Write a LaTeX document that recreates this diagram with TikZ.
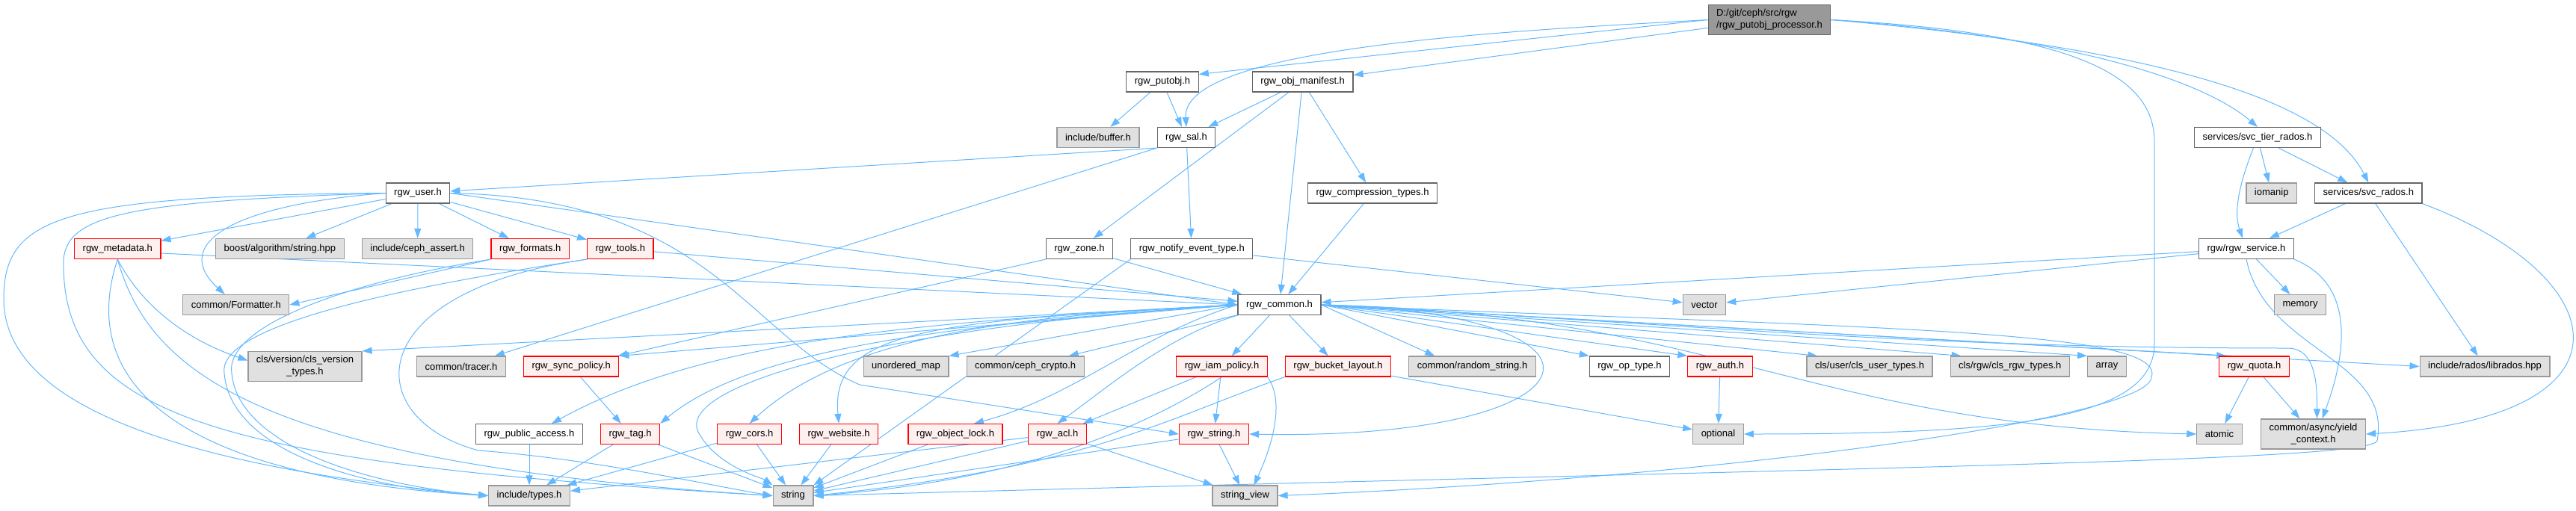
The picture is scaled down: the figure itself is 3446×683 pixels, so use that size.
\documentclass[tikz,border=0pt]{standalone}
\usepackage{fontspec}
\setmainfont{Liberation Sans}
\usepackage{xcolor}
\definecolor{dxedge}{HTML}{63B8FF}
\definecolor{dxframe}{HTML}{666666}
\definecolor{dxleafline}{HTML}{999999}
\definecolor{dxleaf}{HTML}{E0E0E0}
\definecolor{dxred}{HTML}{FF0000}
\definecolor{dxredfill}{HTML}{FFF0F0}
\definecolor{dxmain}{HTML}{999999}
\usetikzlibrary{arrows.meta,positioning,backgrounds}
\tikzset{
  nb/.style={draw, align=center, font=\fontsize{13}{16}\selectfont,
             inner xsep=11pt, inner ysep=6pt, minimum height=27pt, line width=1.2pt},
  nwhite/.style={nb, fill=white, draw=dxframe},
  ngray/.style={nb, fill=dxleaf, draw=dxleafline},
  nred/.style={nb, fill=dxredfill, draw=dxred},
  nmain/.style={nb, fill=dxmain, draw=dxframe, align=left},
  ar/.style={-{Triangle[length=13pt,width=9pt]}, draw=dxedge, line width=1pt},
}
\begin{document}
\begin{tikzpicture}[x=1pt, y=1pt, node distance=23pt]
  \useasboundingbox (0,0) rectangle (3446,-683);
  % ranks, top to bottom
  \node[nmain] (main) at (2367,-26.5) {D:/git/ceph/src/rgw\\/rgw\_putobj\_processor.h};

  \node[nwhite] (putobj) at (1555,-109.5) {rgw\_putobj.h};
  \node[nwhite] (manifest) at (1742.6,-109.5) {rgw\_obj\_manifest.h};

  \node[ngray] (buffer) at (1469,-184) {include/buffer.h};
  \node[nwhite, right=of buffer] (sal) {rgw\_sal.h};
  \node[nwhite] (svctier) at (3020,-184) {services/svc\_tier\_rados.h};

  \node[nwhite] (user) at (559,-258.5) {rgw\_user.h};
  \node[nwhite] (compress) at (1836,-258.5) {rgw\_compression\_types.h};
  \node[ngray] (iomanip) at (3038.7,-258.5) {iomanip};
  \node[nwhite, right=of iomanip] (svcrados) {services/svc\_rados.h};

  \node[nred] (metadata) at (157.3,-333) {rgw\_metadata.h};
  \node[ngray] (boost) at (374.4,-333) {boost/algorithm/string.hpp};
  \node[ngray] (assert) at (558.6,-333) {include/ceph\_assert.h};
  \node[nred, right=of assert] (formats) {rgw\_formats.h};
  \node[nred, right=of formats] (tools) {rgw\_tools.h};
  \node[nwhite] (zone) at (1444,-333) {rgw\_zone.h};
  \node[nwhite, right=of zone] (notify) {rgw\_notify\_event\_type.h};
  \node[nwhite] (service) at (3005,-333) {rgw/rgw\_service.h};

  \node[ngray] (formatter) at (315.8,-408) {common/Formatter.h};
  \node[nwhite] (common) at (1711.5,-408) {rgw\_common.h};
  \node[ngray] (vector) at (2280,-408) {vector};
  \node[ngray] (memory) at (3077,-408) {memory};

  \node[ngray] (clsver) at (408,-490.5) {cls/version/cls\_version\\\_types.h};
  \node[ngray] (tracer) at (617,-490.5) {common/tracer.h};
  \node[nred, right=of tracer] (syncpol) {rgw\_sync\_policy.h};
  \node[ngray] (umap) at (1212,-490.5) {unordered\_map};
  \node[ngray, right=of umap] (crypto) {common/ceph\_crypto.h};
  \node[nred] (iam) at (1634.5,-490.5) {rgw\_iam\_policy.h};
  \node[nred, right=of iam] (bucket) {rgw\_bucket\_layout.h};
  \node[ngray, right=of bucket] (randstr) {common/random\_string.h};
  \node[nwhite] (optype) at (2180,-490.5) {rgw\_op\_type.h};
  \node[nred, right=of optype] (auth) {rgw\_auth.h};
  \node[ngray] (clsuser) at (2501,-490.5) {cls/user/cls\_user\_types.h};
  \node[ngray, right=of clsuser] (clsrgw) {cls/rgw/cls\_rgw\_types.h};
  \node[ngray, right=of clsrgw] (array) {array};
  \node[nred] (quota) at (3015.6,-490.5) {rgw\_quota.h};
  \node[ngray] (librados) at (3324,-490.5) {include/rados/librados.hpp};

  \node[nwhite] (pubacc) at (708,-581) {rgw\_public\_access.h};
  \node[nred, right=of pubacc] (tag) {rgw\_tag.h};
  \node[nred] (cors) at (1002.6,-581) {rgw\_cors.h};
  \node[nred, right=of cors] (website) {rgw\_website.h};
  \node[nred] (objlock) at (1278,-581) {rgw\_object\_lock.h};
  \node[nred] (acl) at (1414.5,-581) {rgw\_acl.h};
  \node[nred] (rstring) at (1624,-581) {rgw\_string.h};
  \node[ngray] (optional) at (2298.5,-581) {optional};
  \node[ngray] (atomic) at (2969,-581) {atomic};
  \node[ngray] (yield) at (3094.5,-581) {common/async/yield\\\_context.h};

  \node[ngray] (types) at (708,-663.5) {include/types.h};
  \node[ngray] (string) at (1061,-663.5) {string};
  \node[ngray] (sview) at (1665.5,-663.5) {string\_view};

  \begin{scope}[on background layer]
    % the processor header
    \draw[ar] (main.west) -- ([yshift=-4pt]putobj.north east);
    \draw[ar] (main) -- (manifest);
    \draw[ar] (main.west) .. controls (2050,-40) and (1580,-60) .. (sal.north);
    \draw[ar] (main.east) .. controls (2780,-50) and (2950,-110) .. (svctier.north);
    \draw[ar] (main.east) .. controls (2950,-70) and (3120,-150) .. (svcrados.north);
    \draw[ar] (main.east) .. controls (2800,-45) and (2882,-110) .. (2882,-190)
      -- (2882,-460) .. controls (2882,-560) and (2700,-581) .. (optional.east);
    % upper ranks
    \draw[ar] (putobj) -- (buffer);
    \draw[ar] (putobj) -- (sal);
    \draw[ar] (manifest) -- (sal);
    \draw[ar] (manifest) -- (zone);
    \draw[ar] (manifest) -- (common);
    \draw[ar] (manifest) -- (compress);
    \draw[ar] (compress) -- (common);
    \draw[ar] (sal.south west) -- (user);
    \draw[ar] (sal.south west) -- (tracer);
    \draw[ar] (sal) -- (notify);
    \draw[ar] (svctier) .. controls (2990,-260) and (2990,-290) .. (service);
    \draw[ar] (svctier) -- (iomanip);
    \draw[ar] (svctier) -- (svcrados);
    \draw[ar] (svcrados) -- (service);
    \draw[ar] (svcrados) -- (librados);
    \draw[ar] (svcrados.south east) .. controls (3500,-370) and (3540,-560) .. (yield.east);
    \draw[ar] (service) -- (common);
    \draw[ar] (service) -- (vector);
    \draw[ar] (service) -- (memory);
    \draw[ar] (service.south east) .. controls (3150,-380) and (3140,-470) .. ([xshift=12pt]yield.north);
    \draw[ar] (service.south) .. controls (3030,-470) and (3200,-480) .. (3180,-590)
      .. controls (3170,-618) and (2500,-625) .. (string.east);
    \draw[ar] (notify) -- (vector);
    \draw[ar] (notify.south west) -- (string.north east);
    \draw[ar] (zone) -- (common);
    \draw[ar] (zone.south west) -- (syncpol);
    % rgw_user.h and friends
    \draw[ar] (tools) -- (common);
    \draw[ar] (formats.south west) -- (formatter.east);
    \draw[ar] (formats.south west) .. controls (450,-380) and (300,-440) .. (310,-500)
      .. controls (320,-600) and (500,-650) .. (types.west);
    \draw[ar] (tools.south west) .. controls (500,-390) and (290,-440) .. (300,-500)
      .. controls (310,-610) and (500,-655) .. (types.west);
    \draw[ar] (tools.south west) .. controls (480,-390) and (480,-560) .. (640,-603)
      .. controls (800,-615) and (950,-650) .. (string.west);
    \draw[ar] ([yshift=-6pt]metadata.east) -- (common.west);
    \draw[ar] (metadata.south) .. controls (190,-410) and (250,-455) .. ([yshift=8pt]clsver.west);
    \draw[ar] (metadata.south) .. controls (100,-520) and (250,-640) .. (types.west);
    \draw[ar] (metadata.south) .. controls (200,-500) and (350,-620) .. (string.west);
    \draw[ar] (user) -- (metadata);
    \draw[ar] (user) -- (boost);
    \draw[ar] (user) -- (assert);
    \draw[ar] (user) -- (formats);
    \draw[ar] (user) -- (tools);
    \draw[ar] (user.east) -- (common.west);
    \draw[ar] (user.west) .. controls (300,-275) and (230,-330) .. ([xshift=-15pt]formatter.north);
    \draw[ar] (user.west) .. controls (80,-262) and (5,-290) .. (5,-400)
      .. controls (5,-560) and (300,-630) .. (types.west);
    \draw[ar] (user.west) .. controls (150,-270) and (80,-290) .. (85,-360)
      .. controls (90,-560) and (300,-620) .. (string.west);
    \draw[ar] (user.east) .. controls (950,-265) and (1000,-450) .. (1150,-515) -- (rstring.west);
    % the hub
    \draw[ar] (common.west) -- (clsver.north east);
    \draw[ar] (common.west) -- (syncpol.north east);
    \draw[ar] (common.west) .. controls (1250,-430) and (950,-450) .. ([xshift=30pt]pubacc.north);
    \draw[ar] (common.west) .. controls (1250,-435) and (1000,-470) .. (tag.north east);
    \draw[ar] (common.west) .. controls (1450,-420) and (1150,-430) .. (cors.north);
    \draw[ar] (common.west) .. controls (1250,-430) and (1110,-440) .. (website.north);
    \draw[ar] (common.west) .. controls (1150,-440) and (900,-520) .. (935,-580)
      .. controls (960,-625) and (1020,-640) .. (string.north west);
    \draw[ar] (common.west) -- (umap.north east);
    \draw[ar] (common) -- (crypto);
    \draw[ar] (common.west) .. controls (1520,-450) and (1440,-530) .. ([xshift=25pt]objlock.north);
    \draw[ar] (common.south west) .. controls (1560,-450) and (1480,-520) .. (acl.north);
    \draw[ar] (common) -- (iam);
    \draw[ar] (common) -- (bucket);
    \draw[ar] (common.east) -- ([xshift=35pt]randstr.north west);
    \draw[ar] (common.east) -- (optype.north west);
    \draw[ar] (common.east) -- (auth.north west);
    \draw[ar] (common.east) -- ([xshift=15pt]clsuser.north west);
    \draw[ar] (common.east) -- ([xshift=15pt]clsrgw.north west);
    \draw[ar] (common.east) -- (array.north west);
    \draw[ar] (common.east) -- ([xshift=10pt]quota.north west);
    \draw[ar] (common.east) -- (librados.west);
    \draw[ar] (common.east) .. controls (2200,-420) and (2150,-590) .. (rstring.east);
    \draw[ar] (common.east) .. controls (2300,-420) and (2420,-570) .. (atomic.west);
    \draw[ar] (common.east) .. controls (2270,-434) and (2550,-466) .. (3060,-466)
      .. controls (3100,-466) and (3099.5,-520) .. ([xshift=5pt]yield.north);
    \draw[ar] (common.east) .. controls (2500,-440) and (2900,-440) .. (2878,-505)
      .. controls (2876,-560) and (2300,-640) .. (sview.east);
    % lower ranks
    \draw[ar] (iam) -- (acl);
    \draw[ar] (iam) -- (rstring);
    \draw[ar] (iam.south east) .. controls (1720,-540) and (1700,-600) .. ([xshift=12pt]sview.north);
    \draw[ar] (iam.south) .. controls (1520,-580) and (1350,-645) .. (string.east);
    \draw[ar] (acl) -- (sview);
    \draw[ar] (acl) -- (string);
    \draw[ar] (acl) -- (types);
    \draw[ar] (rstring) -- (sview);
    \draw[ar] (rstring) -- (string);
    \draw[ar] (objlock) -- (string);
    \draw[ar] (bucket) -- (optional);
    \draw[ar] (bucket.south west) .. controls (1560,-560) and (1460,-625) .. (string.east);
    \draw[ar] (auth) -- (optional);
    \draw[ar] (quota) -- (atomic);
    \draw[ar] (quota) -- (yield);
    \draw[ar] (syncpol) -- (tag);
    \draw[ar] (pubacc) -- (types);
    \draw[ar] (tag) -- (types);
    \draw[ar] (tag) -- (string);
    \draw[ar] (cors) -- (types);
    \draw[ar] (cors) -- (string);
    \draw[ar] (website) -- (string);
  \end{scope}
\end{tikzpicture}
\end{document}
